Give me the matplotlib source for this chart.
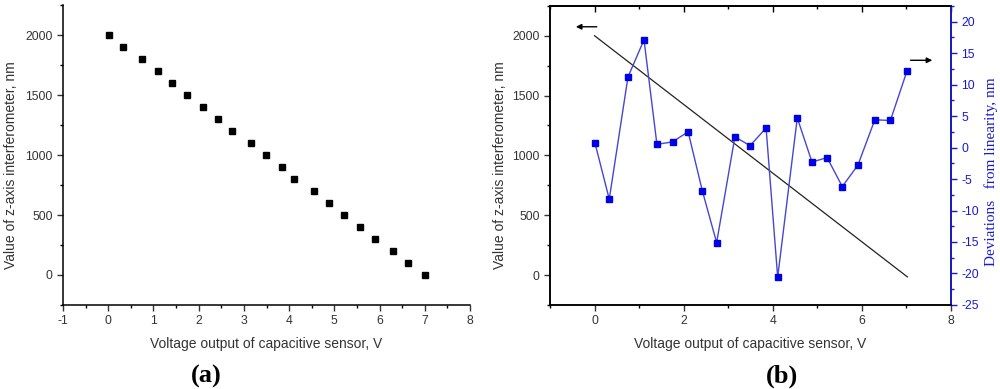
import numpy as np
import matplotlib
matplotlib.use("Agg")
import matplotlib.pyplot as plt
from matplotlib.ticker import MultipleLocator

plt.rcParams['font.family'] = ['Liberation Sans', 'DejaVu Sans']
plt.rcParams['axes.unicode_minus'] = False

# capacitive sensor voltage (V) vs interferometer z value (nm)
voltage = [0.01, 0.33, 0.75, 1.11, 1.40, 1.75, 2.10, 2.42, 2.74, 3.15, 3.49,
           3.85, 4.11, 4.55, 4.88, 5.22, 5.56, 5.91, 6.29, 6.64, 7.01]
z_value = [2000, 1900, 1800, 1700, 1600, 1500, 1400, 1300, 1200, 1100, 1000,
           900, 800, 700, 600, 500, 400, 300, 200, 100, 0]

# deviations from linearity (nm)
deviation = [0.7, -8.2, 11.2, 17.1, 0.5, 0.9, 2.5, -6.9, -15.1, 1.7, 0.3,
             3.1, -20.6, 4.7, -2.3, -1.6, -6.2, -2.8, 4.4, 4.3, 12.1]

# linear fit line
fit_x = [0.0, 7.02]
fit_y = [2000, -15]

tick_col = '#333333'
blue = '#1a1acc'

fig = plt.figure(figsize=(10, 3.89), dpi=100)


def style_ticks(ax):
    ax.tick_params(which='major', direction='out', length=4, width=1.0,
                   labelsize=8.8, colors=tick_col)
    ax.tick_params(which='minor', direction='out', length=2.5, width=1.0)
    for s in ax.spines.values():
        s.set_linewidth(1.1)


# ---- (a)
ax1 = fig.add_axes([0.063, 0.216, 0.407, 0.771])
ax1.plot(voltage, z_value, 's', color='black', markersize=4.5, linestyle='none')
ax1.set_xlim(-1, 8)
ax1.set_ylim(-250, 2250)
ax1.xaxis.set_major_locator(MultipleLocator(1))
ax1.xaxis.set_minor_locator(MultipleLocator(0.5))
ax1.yaxis.set_major_locator(MultipleLocator(500))
ax1.yaxis.set_minor_locator(MultipleLocator(250))
ax1.spines['top'].set_visible(False)
ax1.spines['right'].set_visible(False)
style_ticks(ax1)
ax1.set_xlabel('Voltage output of capacitive sensor, V', fontsize=10, color=tick_col)
ax1.set_ylabel('Value of z-axis interferometer, nm', fontsize=10, color=tick_col)
ax1.xaxis.set_label_coords(0.5, -0.107)
ax1.yaxis.set_label_coords(-0.11, 0.467)

# ---- (b)
ax2 = fig.add_axes([0.550, 0.216, 0.401, 0.769])
ax2.plot(fit_x, fit_y, color='#222222', linewidth=0.9)
ax2.set_xlim(-1, 8)
ax2.set_ylim(-250, 2250)
ax2.xaxis.set_major_locator(MultipleLocator(2))
ax2.xaxis.set_minor_locator(MultipleLocator(1))
ax2.yaxis.set_major_locator(MultipleLocator(500))
ax2.yaxis.set_minor_locator(MultipleLocator(250))
style_ticks(ax2)
ax2.set_xlabel('Voltage output of capacitive sensor, V', fontsize=10, color=tick_col)
ax2.set_ylabel('Value of z-axis interferometer, nm', fontsize=10, color=tick_col)
ax2.xaxis.set_label_coords(0.5, -0.107)
ax2.yaxis.set_label_coords(-0.107, 0.467)

# top axis with inward ticks, no labels
top = ax2.secondary_xaxis('top')
top.xaxis.set_major_locator(MultipleLocator(2))
top.xaxis.set_minor_locator(MultipleLocator(1))
top.tick_params(which='major', direction='in', length=4, width=1.0, labeltop=False)
top.tick_params(which='minor', direction='in', length=2.5, width=1.0)
top.spines['top'].set_linewidth(1.1)

ax2.annotate('', xy=(-0.42, 2075), xytext=(0.05, 2075),
             arrowprops=dict(arrowstyle='-|>', color='black', lw=1.0,
                             mutation_scale=8, shrinkA=0, shrinkB=0))
ax2.annotate('', xy=(7.58, 1795), xytext=(7.09, 1795),
             arrowprops=dict(arrowstyle='-|>', color='black', lw=1.0,
                             mutation_scale=8, shrinkA=0, shrinkB=0))

ax3 = ax2.twinx()
ax3.plot(voltage, deviation, '-', color='#4646d2', linewidth=1.0)
ax3.plot(voltage, deviation, 's', color='#0000e6', markersize=4.5, linestyle='none')
ax3.set_ylim(-25, 22.5)
ax3.yaxis.set_major_locator(MultipleLocator(5))
ax3.yaxis.set_minor_locator(MultipleLocator(2.5))
style_ticks(ax3)
ax3.tick_params(axis='y', which='both', colors=blue)
ax3.spines['right'].set_color(blue)
ax3.spines['right'].set_linewidth(1.3)
ax3.set_ylabel('Deviations   from linearity, nm', fontsize=11, color=blue,
               family=['Liberation Serif', 'DejaVu Serif'])
ax3.yaxis.set_label_coords(1.084, 0.445)

fig.text(0.206, 0.032, '(a)', fontsize=19, fontweight='bold', ha='center',
         va='center', family=['Liberation Serif', 'DejaVu Serif'])
fig.text(0.782, 0.032, '(b)', fontsize=19, fontweight='bold', ha='center',
         va='center', family=['Liberation Serif', 'DejaVu Serif'])

fig.savefig('out.png', dpi=100)
